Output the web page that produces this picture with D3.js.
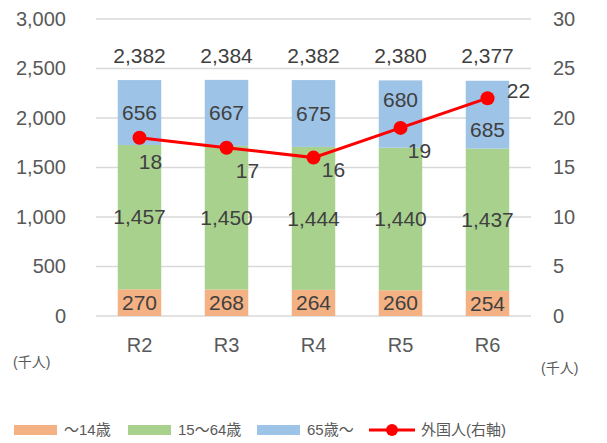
<!DOCTYPE html>
<html>
<head>
<meta charset="utf-8">
<script src="https://cdn.jsdelivr.net/npm/d3@7"></script>
<style>
  body { margin: 0; background: #fff; }
  text { font-family: "Liberation Sans", Arial, "Noto Sans CJK JP", sans-serif; }
</style>
</head>
<body>
<div id="chart"></div>
<script>
// data
var years = ["R2", "R3", "R4", "R5", "R6"];
var age0to14 = [270, 268, 264, 260, 254];
var age15to64 = [1457, 1450, 1444, 1440, 1437];
var age65plus = [656, 667, 675, 680, 685];
var totals = [2382, 2384, 2382, 2380, 2377];
var foreigners = [18, 17, 16, 19, 22];
var leftTicks = [0, 500, 1000, 1500, 2000, 2500, 3000];
var rightTicks = [0, 5, 10, 15, 20, 25, 30];
var seriesNames = ["～14歳", "15～64歳", "65歳～", "外国人(右軸)"];

// label nudges (layout only)
var lineLabelShift = [[11, 24], [21, 23], [20, 12], [19, 23], [31, -8]];
var blueLabelShift = [0, 0, 0, -14, 15];

var svgWidth = 607, svgHeight = 443;
var margin = {top: 19, right: 76, bottom: 127, left: 96};
var chartWidth = svgWidth - margin.left - margin.right;
var chartHeight = svgHeight - margin.top - margin.bottom;

var colors = ["#f4b183", "#a9d18e", "#9dc3e6"];
var red = "#ff0000";

var svg = d3.select("#chart").append("svg")
  .attr("width", svgWidth).attr("height", svgHeight);
var g = svg.append("g").attr("transform", `translate(${margin.left},${margin.top})`);

var x = d3.scaleBand().domain(years).range([0, chartWidth]).paddingInner(0.5).paddingOuter(0.25);
var y = d3.scaleLinear().domain([0, 3000]).range([chartHeight, 0]);
var y2 = d3.scaleLinear().domain([0, 30]).range([chartHeight, 0]);

// gridlines
g.selectAll("line.grid").data(leftTicks).enter().append("line")
  .attr("x1", 0).attr("x2", chartWidth)
  .attr("y1", d => y(d)).attr("y2", d => y(d))
  .attr("stroke", "#d9d9d9").attr("stroke-width", 1.5);

// axes
var leftAxis = d3.axisLeft(y).tickValues(leftTicks).tickSize(0).tickPadding(30)
  .tickFormat(d3.format(","));
var gl = g.append("g").call(leftAxis);
var rightAxis = d3.axisRight(y2).tickValues(rightTicks).tickSize(0).tickPadding(22);
var gr = g.append("g").attr("transform", `translate(${chartWidth},0)`).call(rightAxis);
var bottomAxis = d3.axisBottom(x).tickSize(0).tickPadding(22);
var gb = g.append("g").attr("transform", `translate(0,${chartHeight})`).call(bottomAxis);
[gl, gr, gb].forEach(a => {
  a.select(".domain").remove();
  a.selectAll("text").attr("fill", "#595959").style("font-size", "20px")
    .style("font-family", "'Liberation Sans', Arial, sans-serif");
});

// stacked data
var rows = years.map((yr, i) => ({year: yr, a: age0to14[i], b: age15to64[i], c: age65plus[i]}));
var stack = d3.stack().keys(["a", "b", "c"])(rows);

stack.forEach((layer, k) => {
  g.append("g").selectAll("rect").data(layer).enter().append("rect")
    .attr("x", d => x(d.data.year))
    .attr("width", x.bandwidth())
    .attr("y", d => y(d[1]))
    .attr("height", d => y(d[0]) - y(d[1]))
    .attr("fill", colors[k]);
});

var fmt = d3.format(",");
stack.forEach((layer, k) => {
  g.append("g").selectAll("text").data(layer).enter().append("text")
    .attr("x", d => x(d.data.year) + x.bandwidth() / 2)
    .attr("y", (d, i) => (y(d[0]) + y(d[1])) / 2 + (k == 2 ? blueLabelShift[i] : 0))
    .attr("dy", "0.35em")
    .attr("text-anchor", "middle")
    .attr("fill", "#404040")
    .style("font-size", "21px")
    .text(d => fmt(d[1] - d[0]));
});

// totals
g.append("g").selectAll("text").data(totals).enter().append("text")
  .attr("x", (d, i) => x(years[i]) + x.bandwidth() / 2)
  .attr("y", 37)
  .attr("dy", "0.35em")
  .attr("text-anchor", "middle")
  .attr("fill", "#404040")
  .style("font-size", "21px")
  .text(d => fmt(d));

// foreigners line (right axis)
var line = d3.line().x((d, i) => x(years[i]) + x.bandwidth() / 2).y(d => y2(d));
g.append("path").datum(foreigners)
  .attr("d", line).attr("fill", "none").attr("stroke", red).attr("stroke-width", 3);
g.append("g").selectAll("circle").data(foreigners).enter().append("circle")
  .attr("cx", (d, i) => x(years[i]) + x.bandwidth() / 2)
  .attr("cy", d => y2(d))
  .attr("r", 7).attr("fill", red);
g.append("g").selectAll("text").data(foreigners).enter().append("text")
  .attr("x", (d, i) => x(years[i]) + x.bandwidth() / 2 + lineLabelShift[i][0])
  .attr("y", (d, i) => y2(d) + lineLabelShift[i][1])
  .attr("dy", "0.35em")
  .attr("text-anchor", "middle")
  .attr("fill", "#404040")
  .style("font-size", "21px")
  .text(d => d);

// unit labels
svg.append("text").attr("x", 13).attr("y", 362).attr("dy", "0.35em")
  .attr("fill", "#595959").style("font-size", "14px").text("(千人)");
svg.append("text").attr("x", 541).attr("y", 368).attr("dy", "0.35em")
  .attr("fill", "#595959").style("font-size", "14px").text("(千人)");

// legend
var legendY = 430;
var legendX = [14, 128, 257];
var legend = svg.append("g");
colors.forEach((c, k) => {
  legend.append("rect").attr("x", legendX[k]).attr("y", legendY - 5)
    .attr("width", 43).attr("height", 10).attr("fill", c);
  legend.append("text").attr("x", legendX[k] + 50).attr("y", legendY).attr("dy", "0.35em")
    .attr("fill", "#595959").style("font-size", "15px").text(seriesNames[k]);
});
legend.append("line").attr("x1", 369).attr("x2", 415).attr("y1", legendY).attr("y2", legendY)
  .attr("stroke", red).attr("stroke-width", 3);
legend.append("circle").attr("cx", 392).attr("cy", legendY).attr("r", 6).attr("fill", red);
legend.append("text").attr("x", 421).attr("y", legendY).attr("dy", "0.35em")
  .attr("fill", "#595959").style("font-size", "15px").text(seriesNames[3]);
</script>
</body>
</html>
